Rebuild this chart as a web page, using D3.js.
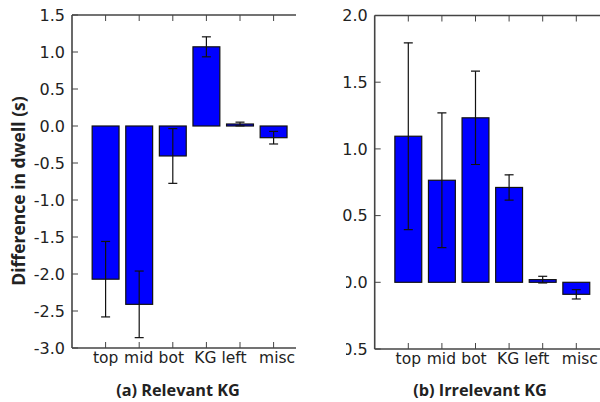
<!DOCTYPE html>
<html><head><meta charset="utf-8">
<script src="https://cdn.jsdelivr.net/npm/d3@7"></script>
<style>body{margin:0;background:#fff}svg{display:block}</style>
</head><body>
<svg id="c" width="600" height="402"></svg>
<script>
const categories = ["top","mid","bot","KG","left","misc"];
const relevantValues = [-2.07, -2.41, -0.405, 1.07, 0.027, -0.158];
const relevantErrors = [0.51, 0.45, 0.37, 0.135, 0.025, 0.085];
const irrelevantValues = [1.095, 0.765, 1.233, 0.711, 0.02, -0.09];
const irrelevantErrors = [0.70, 0.505, 0.35, 0.095, 0.025, 0.035];
const relevantTicks = [1.5,1.0,0.5,0.0,-0.5,-1.0,-1.5,-2.0,-2.5,-3.0];
const irrelevantTicks = [2.0,1.5,1.0,0.5,0.0,-0.5];
const titles = ["(a) Relevant KG","(b) Irrelevant KG"];
const yLabel = "Difference in dwell (s)";

const svg = d3.select("#c");
const defs = svg.append("defs");
// small horizontal nudges of the category labels, matching the reference typesetting
const labelNudge = {top:-0.5, mid:-1, bot:-2, KG:-1.5, left:-6.5, misc:3};

function panel(opts){
  const {id, x0, clipRight, yDomain, yTop, yBot, values, errors, ticks, title, titleX} = opts;
  const unit = 33.6;
  const x = d3.scaleLinear().domain([0,7]).range([x0, x0+7*unit]);
  const y = d3.scaleLinear().domain(yDomain).range([yBot, yTop]);
  defs.append("clipPath").attr("id",id).append("rect")
    .attr("x", x0-2).attr("y", 0).attr("width", clipRight-(x0-2)).attr("height", 402);
  const g = svg.append("g").attr("clip-path",`url(#${id})`);
  const bw = 0.8*unit;
  g.selectAll("rect.bar").data(values).join("rect").attr("class","bar")
    .attr("x",(d,i)=>x(i+1)-bw/2)
    .attr("y",d=>Math.min(y(d),y(0)))
    .attr("width",bw)
    .attr("height",d=>Math.abs(y(d)-y(0)))
    .attr("fill","#0000ff").attr("stroke","#111").attr("stroke-width",1.2);
  const eb = g.selectAll("g.err").data(values).join("g").attr("class","err");
  eb.append("line").attr("x1",(d,i)=>x(i+1)).attr("x2",(d,i)=>x(i+1))
    .attr("y1",(d,i)=>y(d+errors[i])).attr("y2",(d,i)=>y(d-errors[i]))
    .attr("stroke","#111").attr("stroke-width",1.2);
  [1,-1].forEach(s=>{
    eb.append("line").attr("x1",(d,i)=>x(i+1)-4.5).attr("x2",(d,i)=>x(i+1)+4.5)
      .attr("y1",(d,i)=>y(d+s*errors[i])).attr("y2",(d,i)=>y(d+s*errors[i]))
      .attr("stroke","#111").attr("stroke-width",1.2);
  });
  const sp = "#444";
  g.append("line").attr("x1",x0).attr("x2",x0+7*unit).attr("y1",yTop).attr("y2",yTop).attr("stroke",sp).attr("stroke-width",1.6);
  g.append("line").attr("x1",x0).attr("x2",x0+7*unit).attr("y1",yBot).attr("y2",yBot).attr("stroke",sp).attr("stroke-width",1.6);
  g.append("line").attr("x1",x0).attr("x2",x0).attr("y1",yTop).attr("y2",yBot).attr("stroke",sp).attr("stroke-width",1.6);
  categories.forEach((c,i)=>{
    g.append("line").attr("x1",x(i+1)).attr("x2",x(i+1)).attr("y1",yTop).attr("y2",yTop+6).attr("stroke",sp).attr("stroke-width",1);
    g.append("line").attr("x1",x(i+1)).attr("x2",x(i+1)).attr("y1",yBot).attr("y2",yBot-6).attr("stroke",sp).attr("stroke-width",1);
  });
  ticks.forEach(t=>{
    g.append("line").attr("x1",x0).attr("x2",x0+6).attr("y1",y(t)).attr("y2",y(t)).attr("stroke",sp).attr("stroke-width",1);
  });
  const xa = d3.axisBottom(x).tickValues(d3.range(1,7)).tickFormat((d)=>categories[d-1]).tickSize(0).tickPadding(0);
  const ax = svg.append("g").attr("transform",`translate(0,${yBot+4})`).call(xa);
  ax.select(".domain").remove();
  ax.selectAll("text").attr("font-family","DejaVu Sans").attr("font-size",15.5).attr("fill","#222").attr("dy","0.71em")
    .attr("dx",d=>labelNudge[categories[d-1]]);
  const ya = d3.axisLeft(y).tickValues(ticks).tickFormat(d3.format(".1f")).tickSize(0).tickPadding(7);
  const ay = svg.append("g").attr("transform",`translate(${x0},0)`).call(ya);
  ay.select(".domain").remove();
  ay.selectAll("text").attr("font-family","DejaVu Sans").attr("font-size",16).attr("fill","#222")
    .text(d=>d3.format(".1f")(d).replace("\u2212","-"));
  svg.append("text").attr("x",titleX).attr("y",396).attr("text-anchor","middle")
    .attr("font-family","Open Sans, Liberation Sans, sans-serif").attr("font-weight","bold").attr("font-size",16.3).attr("fill","#222")
    .text(title);
  return {x,y};
}

panel({id:"clipA", x0:72, clipRight:296, yDomain:[-3.0,1.5], yTop:15, yBot:348,
  values:relevantValues, errors:relevantErrors, ticks:relevantTicks, title:titles[0], titleX:178});
panel({id:"clipB", x0:374.7, clipRight:600, yDomain:[-0.5,2.0], yTop:15.5, yBot:349,
  values:irrelevantValues, errors:irrelevantErrors, ticks:irrelevantTicks, title:titles[1], titleX:480});

// white patch hiding the left part of the lower right-panel labels (as in the reference)
svg.append("rect").attr("x",300).attr("y",266).attr("width",46).attr("height",96).attr("fill","#fff");

svg.append("text").attr("transform","translate(25,191) rotate(-90)").attr("text-anchor","middle")
  .attr("font-family","Open Sans, Liberation Sans, sans-serif").attr("font-weight","bold").attr("font-size",17.5).attr("fill","#222")
  .text(yLabel);
</script>
</body></html>
